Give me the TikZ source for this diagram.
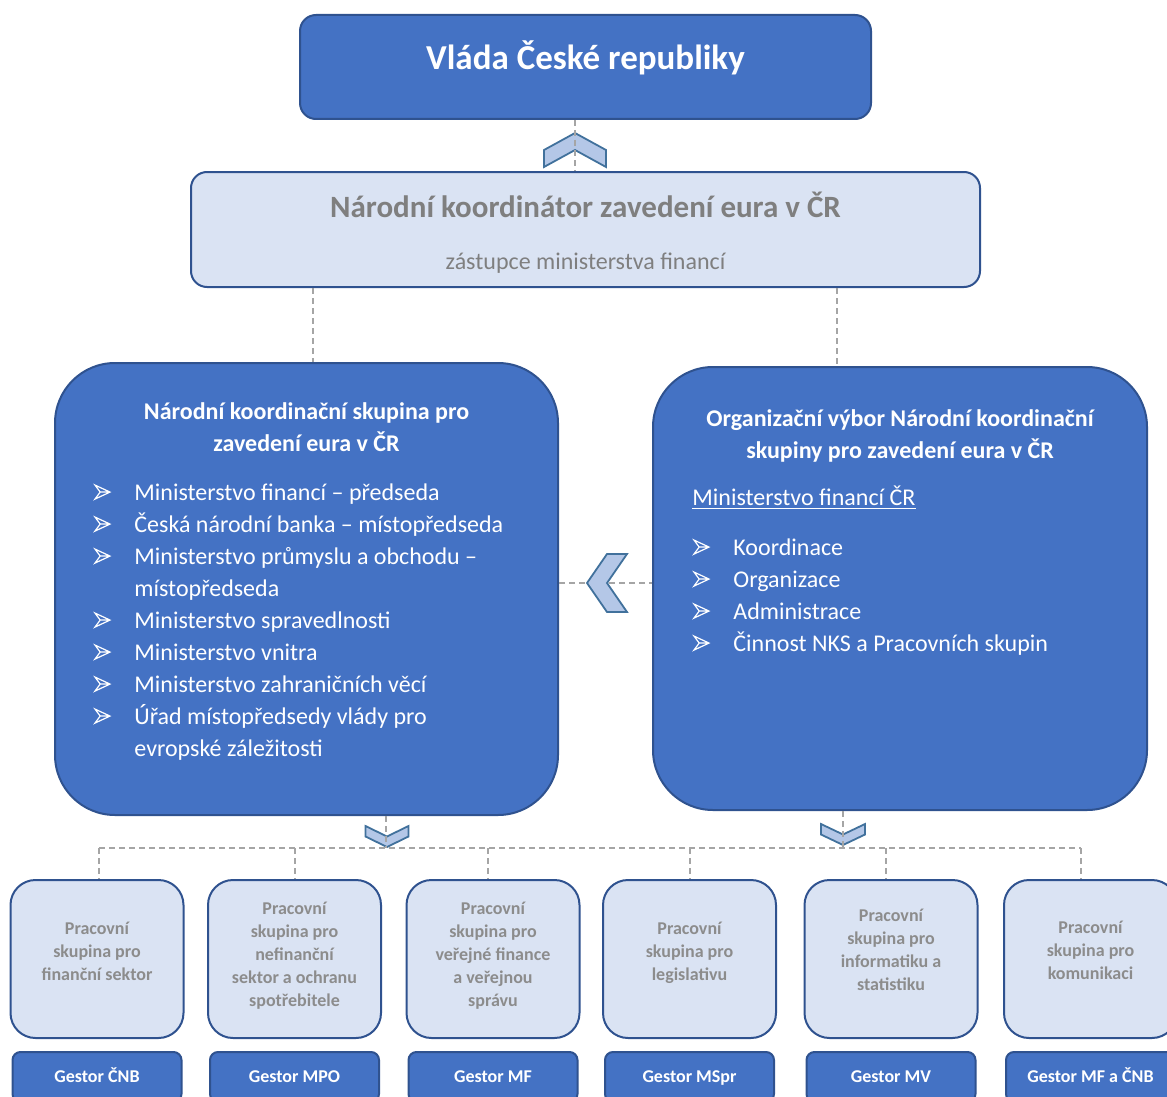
\documentclass[tikz,border=0pt]{standalone}
\usepackage{fontspec}
\setmainfont{Carlito}
\usetikzlibrary{positioning}
\definecolor{boxblue}{HTML}{4472C4}
\definecolor{edgeblue}{HTML}{2F528F}
\definecolor{paleblue}{HTML}{DAE3F3}
\definecolor{chevfill}{HTML}{B4C7E7}
\definecolor{chevedge}{HTML}{41719C}
\definecolor{txtgrey}{HTML}{7F7F7F}
\definecolor{pwsgrey}{HTML}{8C8C8C}
\definecolor{dashgrey}{HTML}{A5A5A5}

% list bullet (outlined arrowhead) and the indent of a wrapped line
\newcommand\pointer{\makebox[20pt][l]{\tikz[baseline=0pt]\draw[white,line width=0.6pt,line join=miter] (0pt,0.5pt) -- (2.6pt,4pt) -- (0pt,7.5pt) -- (7.5pt,4pt) -- cycle (2.6pt,4pt) -- (7.5pt,4pt);}}
\newcommand\cont{\makebox[20pt]{}}

\begin{document}
\begin{tikzpicture}[x=0.5pt,y=-0.5pt]

\tikzset{bluebox/.style={draw=edgeblue,fill=boxblue,line width=1pt,rounded corners=#1,inner sep=0pt},
bluebox/.default=5pt,
palebox/.style={draw=edgeblue,fill=paleblue,line width=1pt,rounded corners=#1,inner sep=0pt},
palebox/.default=12.5pt,
link/.style={draw=dashgrey,line width=0.75pt,dash pattern=on 3pt off 2pt},
chevron/.pic={\draw[fill=chevfill,draw=chevedge,line width=0.9pt,line join=miter] (-1,0) -- (-1,0.5) -- (0,1) -- (1,0.5) -- (1,0) -- (0,0.5) -- cycle;},
headtext/.style={font=\bfseries\fontsize{17.5pt}{21pt}\selectfont,text=white,inner sep=0pt},
koordtitle/.style={font=\bfseries\fontsize{15.5pt}{18pt}\selectfont,text=txtgrey,inner sep=0pt},
subtext/.style={font=\fontsize{12pt}{14pt}\selectfont,text=txtgrey,inner sep=0pt},
grouptitle/.style={font=\bfseries\fontsize{12pt}{16pt}\selectfont,text=white,align=center,inner sep=0pt},
listtext/.style={font=\fontsize{12pt}{16pt}\selectfont,text=white,align=left,inner sep=0pt},
pwstext/.style={font=\bfseries\fontsize{9pt}{11.5pt}\selectfont,text=pwsgrey,align=center,inner sep=0pt},
gestor/.style={bluebox=4pt,minimum width=84.5pt,minimum height=25pt,text height=7pt,text depth=2pt,font=\bfseries\fontsize{9pt}{11pt}\selectfont,text=white}}

\useasboundingbox (0,0) rectangle (1167,1097);
\clip (0,0) rectangle (1167,1097);

% Government and coordinator
\node[bluebox=8pt,minimum width=285.5pt,minimum height=52pt] (gov) at (585.5,67) {};
\node[headtext] (govtext) at ([yshift=4.5pt]gov.center) {Vláda České republiky};
\node[palebox=8pt,minimum width=394.5pt,minimum height=57.5pt] (koord) at (585.5,229.5) {};
\node[koordtitle] (koordtext) at ([yshift=12.25pt]koord.center) {Národní koordinátor zavedení eura v ČR};
\node[subtext] (koordsub) at ([yshift=-16.75pt]koord.center) {zástupce ministerstva financí};

% NKS and its organising committee
\node[bluebox=30pt,minimum width=251.5pt,minimum height=226pt] (nks) at (306.5,589) {};
\node[grouptitle] (nkstitle) at ([yshift=-32.5pt]nks.north) {Národní koordinační skupina pro\\zavedení eura v ČR};
\node[listtext,anchor=north west] (nkslist) at ([xshift=20pt,yshift=-60.5pt]nks.north west) {%
\pointer Ministerstvo financí – předseda\\
\pointer Česká národní banka – místopředseda\\
\pointer Ministerstvo průmyslu a obchodu –\\
\cont místopředseda\\
\pointer Ministerstvo spravedlnosti\\
\pointer Ministerstvo vnitra\\
\pointer Ministerstvo zahraničních věcí\\
\pointer Úřad místopředsedy vlády pro\\
\cont evropské záležitosti};

\node[bluebox=30pt,minimum width=247pt,minimum height=221.5pt] (org) at (900,588.5) {};
\node[grouptitle] (orgtitle) at ([yshift=-34.75pt]org.north) {Organizační výbor Národní koordinační\\skupiny pro zavedení eura v ČR};
\node[listtext,anchor=base west] (orghead) at ([xshift=20pt,yshift=-69.5pt]org.north west) {\underline{Ministerstvo financí ČR}};
\node[listtext,anchor=north west] (orglist) at ([xshift=20.5pt,yshift=-86pt]org.north west) {%
\pointer Koordinace\\
\pointer Organizace\\
\pointer Administrace\\
\pointer Činnost NKS a Pracovních skupin};

% working groups with their gestors
\coordinate (bus) at (0,848);
\foreach \i/\cx/\dx/\ty/\txt/\gest in {
 1/97/1/4/{Pracovní\\skupina pro\\finanční sektor}/{Gestor ČNB},
 2/294.5/0.25/1.5/{Pracovní\\skupina pro\\nefinanční\\sektor a ochranu\\spotřebitele}/{Gestor MPO},
 3/493/-2.5/1.5/{Pracovní\\skupina pro\\veřejné finance\\a veřejnou\\správu}/{Gestor MF},
 4/689.5/0.25/3/{Pracovní\\skupina pro\\legislativu}/{Gestor MSpr},
 5/891/-2.5/4.5/{Pracovní\\skupina pro\\informatiku a\\statistiku}/{Gestor MV},
 6/1090.5/-4.75/4.5/{Pracovní\\skupina pro\\komunikaci}/{Gestor MF a ČNB}}
{
 \node[palebox,minimum width=86.5pt,minimum height=79pt] (pws\i) at (\cx,959) {};
 \node[pwstext] (pwst\i) at ([yshift=\ty pt]pws\i.center) {\txt};
 \node[gestor,below=6pt of pws\i] (gest\i) {\gest};
 \coordinate (drop\i) at ([xshift=\dx pt]pws\i.north);
 \draw[link] (drop\i |- bus) -- (drop\i);
}

% Edges
\coordinate (side) at ([yshift=3pt]nks.east);
\draw[link] (side) -- (side -| org.west);

\pic[xscale=31,yscale=-34] at (575,167) {chevron};
\pic[xscale=21.5,yscale=21] at (387,826) {chevron};
\pic[xscale=22,yscale=21] at (843,824) {chevron};
\pic[rotate=-90,xscale=29,yscale=40] at (627,583) {chevron};

\coordinate (govdrop) at ([xshift=-5.25pt]gov.south);
\coordinate (nksup) at ([xshift=3.25pt]nks.north);
\coordinate (orgup) at ([xshift=-31.5pt]org.north);
\coordinate (nksdrop) at ([xshift=39.75pt]nks.south);
\coordinate (orgdrop) at ([xshift=-28.5pt]org.south);
\draw[link] (govdrop) -- (govdrop |- koord.north);
\draw[link] (nksup |- koord.south) -- (nksup);
\draw[link] (orgup |- koord.south) -- (orgup);
\draw[link] (nksdrop) -- (nksdrop |- bus);
\draw[link] (orgdrop) -- (orgdrop |- bus);
\draw[link] (drop1 |- bus) -- (drop6 |- bus);

\end{tikzpicture}
\end{document}
